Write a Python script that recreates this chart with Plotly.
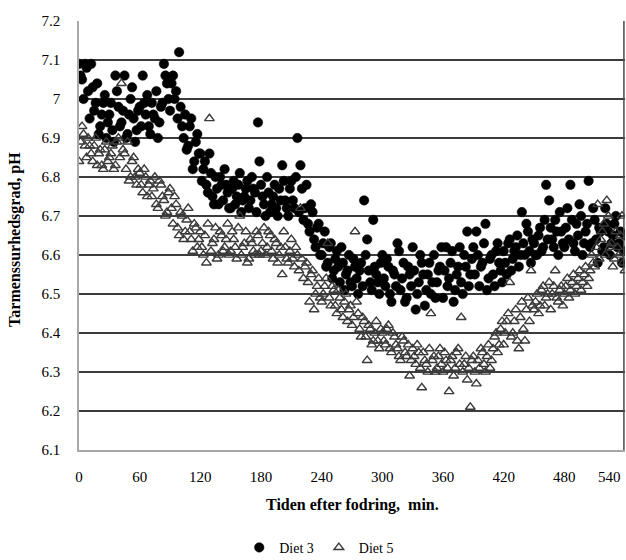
import plotly.graph_objects as go

# pH readings: main readings at t = 0, 3, 6, ... min; extra readings at t = 1.5, 4.5, ... min
step_min = 3
offset_min = 1.5

diet3_ph = [
    7.09, 7.05, 7.09, 7.02, 7.09, 6.97, 7.04, 6.93, 6.99, 6.90,
    6.96, 6.92, 7.06, 6.98, 6.94, 7.06, 6.91, 7.00, 6.95, 6.92,
    6.98, 7.06, 6.96, 6.93, 6.99, 6.95, 6.90, 6.98, 7.09, 7.04,
    6.97, 7.06, 7.02, 7.12, 6.93, 6.96, 6.88, 6.95, 6.84, 6.91,
    6.86, 6.82, 6.78, 6.86, 6.75, 6.80, 6.73, 6.78, 6.82, 6.76,
    6.72, 6.79, 6.75, 6.81, 6.74, 6.77, 6.72, 6.80, 6.76, 6.94,
    6.78, 6.73, 6.80, 6.71, 6.75, 6.72, 6.77, 6.83, 6.74, 6.70,
    6.79, 6.72, 6.90, 6.83, 6.69, 6.78, 6.66, 6.71, 6.62, 6.68,
    6.60, 6.66, 6.58, 6.63, 6.56, 6.61, 6.53, 6.58, 6.55, 6.60,
    6.52, 6.57, 6.50, 6.58, 6.74, 6.64, 6.53, 6.69, 6.55, 6.50,
    6.60, 6.52, 6.57, 6.48, 6.55, 6.63, 6.51, 6.58, 6.49, 6.55,
    6.62, 6.46, 6.53, 6.58, 6.47, 6.55, 6.50, 6.60, 6.53, 6.57,
    6.49, 6.62, 6.54, 6.61, 6.51, 6.57, 6.53, 6.60, 6.66, 6.55,
    6.62, 6.66, 6.52, 6.58, 6.68, 6.54, 6.60, 6.52, 6.63, 6.56,
    6.61, 6.55, 6.64, 6.59, 6.62, 6.57, 6.71, 6.60, 6.66, 6.58,
    6.63, 6.60, 6.67, 6.62, 6.78, 6.74, 6.64, 6.69, 6.60, 6.66,
    6.62, 6.72, 6.78, 6.63, 6.68, 6.73, 6.60, 6.66, 6.79, 6.63,
    6.69, 6.58, 6.66, 6.62, 6.68, 6.60, 6.65, 6.70, 6.63, 6.58,
    6.65,
]

diet3_ph_extra = [
    7.06, 7.00, 7.08, 6.95, 7.03, 6.99, 6.91, 6.96, 7.01, 6.94,
    6.99, 6.89, 7.02, 6.93, 6.97, 6.90, 6.96, 7.03, 6.89, 6.97,
    6.93, 6.99, 7.01, 6.91, 6.96, 7.02, 6.94, 6.99, 7.06, 7.00,
    7.04, 7.00, 6.95, 6.98, 6.90, 6.87, 6.93, 6.82, 6.89, 6.86,
    6.79, 6.84, 6.76, 6.81, 6.73, 6.77, 6.80, 6.74, 6.78, 6.72,
    6.77, 6.73, 6.78, 6.71, 6.75, 6.79, 6.74, 6.77, 6.71, 6.84,
    6.75, 6.70, 6.76, 6.73, 6.78, 6.70, 6.74, 6.79, 6.72, 6.77,
    6.74, 6.80, 6.71, 6.77, 6.72, 6.68, 6.73, 6.64, 6.67, 6.60,
    6.63, 6.57, 6.62, 6.54, 6.59, 6.57, 6.62, 6.51, 6.56, 6.53,
    6.59, 6.54, 6.56, 6.52, 6.60, 6.56, 6.51, 6.57, 6.53, 6.58,
    6.54, 6.59, 6.50, 6.56, 6.52, 6.61, 6.54, 6.48, 6.57, 6.52,
    6.56, 6.50, 6.60, 6.55, 6.51, 6.58, 6.53, 6.49, 6.56, 6.62,
    6.56, 6.52, 6.58, 6.48, 6.55, 6.62, 6.50, 6.57, 6.52, 6.59,
    6.55, 6.60, 6.57, 6.63, 6.51, 6.59, 6.55, 6.61, 6.58, 6.53,
    6.58, 6.63, 6.56, 6.61, 6.65, 6.60, 6.63, 6.68, 6.61, 6.64,
    6.60, 6.65, 6.61, 6.69, 6.64, 6.67, 6.62, 6.66, 6.71, 6.63,
    6.67, 6.64, 6.69, 6.61, 6.65, 6.70, 6.63, 6.68, 6.62, 6.72,
    6.64, 6.67, 6.61, 6.72, 6.66, 6.63, 6.68, 6.62, 6.66, 6.61,
]

diet5_ph = [
    6.84, 6.93, 6.88, 6.90, 6.86, 6.88, 6.83, 6.87, 6.82, 6.89,
    6.85, 6.88, 6.83, 6.90, 7.04, 6.86, 6.89, 6.80, 6.85, 6.78,
    6.81, 6.76, 6.80, 6.78, 6.75, 6.80, 6.72, 6.78, 6.74, 6.71,
    6.77, 6.68, 6.73, 6.65, 6.70, 6.66, 6.72, 6.64, 6.68, 6.62,
    6.66, 6.60, 6.58, 6.95, 6.63, 6.67, 6.60, 6.65, 6.62, 6.68,
    6.61, 6.64, 6.59, 6.70, 6.62, 6.66, 6.59, 6.63, 6.60, 6.65,
    6.61, 6.67, 6.62, 6.65, 6.59, 6.63, 6.60, 6.55, 6.62, 6.58,
    6.64, 6.57, 6.60, 6.72, 6.54, 6.58, 6.48, 6.56, 6.50, 6.54,
    6.48, 6.52, 6.63, 6.47, 6.51, 6.45, 6.49, 6.44, 6.50, 6.46,
    6.42, 6.66, 6.45, 6.39, 6.43, 6.33, 6.41, 6.38, 6.43, 6.36,
    6.40, 6.37, 6.42, 6.35, 6.39, 6.36, 6.33, 6.38, 6.34, 6.29,
    6.36, 6.32, 6.35, 6.26, 6.33, 6.30, 6.45, 6.34, 6.31, 6.36,
    6.30, 6.33, 6.25, 6.34, 6.31, 6.36, 6.44, 6.32, 6.28, 6.21,
    6.34, 6.27, 6.31, 6.35, 6.30, 6.37, 6.33, 6.39, 6.35, 6.41,
    6.37, 6.43, 6.53, 6.40, 6.46, 6.36, 6.48, 6.38, 6.49, 6.56,
    6.46, 6.50, 6.47, 6.52, 6.49, 6.53, 6.50, 6.56, 6.48, 6.52,
    6.50, 6.54, 6.51, 6.55, 6.52, 6.56, 6.53, 6.57, 6.54, 6.60,
    6.57, 6.73, 6.64, 6.68, 6.74, 6.62, 6.57, 6.66, 6.60, 6.70,
    6.56,
]

diet5_ph_extra = [
    6.89, 6.91, 6.85, 6.88, 6.84, 6.90, 6.86, 6.83, 6.87, 6.84,
    6.86, 6.82, 6.89, 6.85, 6.87, 6.82, 6.79, 6.84, 6.80, 6.82,
    6.78, 6.82, 6.75, 6.79, 6.77, 6.73, 6.79, 6.75, 6.70, 6.76,
    6.72, 6.75, 6.67, 6.71, 6.64, 6.69, 6.66, 6.61, 6.67, 6.64,
    6.62, 6.65, 6.68, 6.61, 6.64, 6.59, 6.66, 6.61, 6.64, 6.60,
    6.66, 6.62, 6.67, 6.60, 6.63, 6.58, 6.64, 6.61, 6.66, 6.60,
    6.63, 6.60, 6.66, 6.61, 6.64, 6.58, 6.62, 6.66, 6.59, 6.61,
    6.59, 6.62, 6.56, 6.59, 6.57, 6.53, 6.55, 6.46, 6.52, 6.49,
    6.50, 6.54, 6.49, 6.52, 6.47, 6.51, 6.46, 6.48, 6.43, 6.47,
    6.44, 6.48, 6.41, 6.44, 6.39, 6.42, 6.37, 6.40, 6.38, 6.41,
    6.38, 6.41, 6.36, 6.40, 6.37, 6.34, 6.39, 6.35, 6.37, 6.33,
    6.34, 6.37, 6.31, 6.35, 6.32, 6.36, 6.33, 6.30, 6.34, 6.32,
    6.35, 6.31, 6.33, 6.29, 6.35, 6.32, 6.30, 6.34, 6.31, 6.33,
    6.30, 6.33, 6.36, 6.32, 6.34, 6.31, 6.36, 6.40, 6.37, 6.43,
    6.40, 6.45, 6.39, 6.43, 6.38, 6.44, 6.41, 6.46, 6.43, 6.47,
    6.48, 6.45, 6.51, 6.47, 6.50, 6.46, 6.52, 6.49, 6.51, 6.47,
    6.52, 6.49, 6.53, 6.50, 6.54, 6.51, 6.55, 6.52, 6.56, 6.58,
    6.62, 6.59, 6.66, 6.60, 6.70, 6.63, 6.59, 6.62, 6.65, 6.58,
]

x_ticks = [0, 60, 120, 180, 240, 300, 360, 420, 480, 540]
x_labels = ["0", "60", "120", "180", "240", "300", "360", "420", "480", ""]
x_last_label = "540"   # drawn right-aligned at the plot edge, as in the original
y_ticks = [6.1, 6.2, 6.3, 6.4, 6.5, 6.6, 6.7, 6.8, 6.9, 7.0, 7.1, 7.2]
y_labels = ["6.1", "6.2", "6.3", "6.4", "6.5", "6.6", "6.7", "6.8", "6.9", "7", "7.1", "7.2"]

t3 = [i * step_min for i in range(len(diet3_ph))] + \
     [offset_min + i * step_min for i in range(len(diet3_ph_extra))]
y3 = diet3_ph + diet3_ph_extra
t5 = [i * step_min for i in range(len(diet5_ph))] + \
     [offset_min + i * step_min for i in range(len(diet5_ph_extra))]
y5 = diet5_ph + diet5_ph_extra

SERIF = "Liberation Serif, Times New Roman, serif"

fig = go.Figure()
fig.add_trace(go.Scatter(
    x=t3, y=y3, mode="markers", name="Diet 3",
    marker=dict(symbol="circle", size=9.5, color="#000000",
                line=dict(width=0.5, color="#000000")),
))
fig.add_trace(go.Scatter(
    x=t5, y=y5, mode="markers", name="Diet 5",
    marker=dict(symbol="triangle-up-open", size=8.5, color="#3a3a3a",
                line=dict(width=1.4, color="#3a3a3a")),
))

# plot area spans x 79..625, y 21..450 on the page
fig.update_layout(
    width=626, height=560,
    margin=dict(l=79, r=1, t=21, b=110, autoexpand=False),
    paper_bgcolor="white", plot_bgcolor="white",
    font=dict(family=SERIF, size=14, color="#000000"),
    showlegend=True,
    legend=dict(orientation="h", x=0.44, xanchor="center", y=-0.228, yanchor="middle",
                font=dict(family=SERIF, size=14, color="#000000"),
                itemwidth=30, tracegroupgap=0),
    xaxis=dict(
        range=[0, 540], tickvals=x_ticks, ticktext=x_labels,
        showgrid=False, zeroline=False, automargin=False,
        showline=True, linecolor="#a8a8a8", linewidth=1.5,
        ticks="", ticklabelstandoff=12,
        tickfont=dict(family=SERIF, size=15, color="#000000"),
    ),
    yaxis=dict(
        range=[6.1, 7.2], tickvals=y_ticks, ticktext=y_labels,
        showgrid=True, gridcolor="#3c3c3c", gridwidth=1.5,
        zeroline=False, automargin=False,
        showline=True, linecolor="#a8a8a8", linewidth=1.5,
        ticks="", ticklabelstandoff=14,
        tickfont=dict(family=SERIF, size=15, color="#000000"),
    ),
    annotations=[
        dict(text=x_last_label, xref="paper", yref="paper",
             x=0.997, y=-0.062, xanchor="right", yanchor="middle", showarrow=False,
             font=dict(family=SERIF, size=15, color="#000000")),
        dict(text="<b>Tiden efter fodring,  min.</b>", xref="paper", yref="paper",
             x=0.5, y=-0.128, xanchor="center", yanchor="middle", showarrow=False,
             font=dict(family=SERIF, size=16, color="#000000")),
        dict(text="<b>Tarmenssurhedsgrad, pH</b>", xref="paper", yref="paper",
             x=-0.117, y=0.49, xanchor="center", yanchor="middle", showarrow=False,
             textangle=-90, font=dict(family=SERIF, size=16, color="#000000")),
    ],
    shapes=[dict(type="line", xref="paper", yref="paper", x0=0.998, x1=0.998, y0=0, y1=1,
                 line=dict(color="#4a4a4a", width=1.5), layer="above")],
)

fig.write_html("out.html", config={"displayModeBar": False},
               post_script="document.body.style.margin='0px';document.body.style.overflow='hidden';")
